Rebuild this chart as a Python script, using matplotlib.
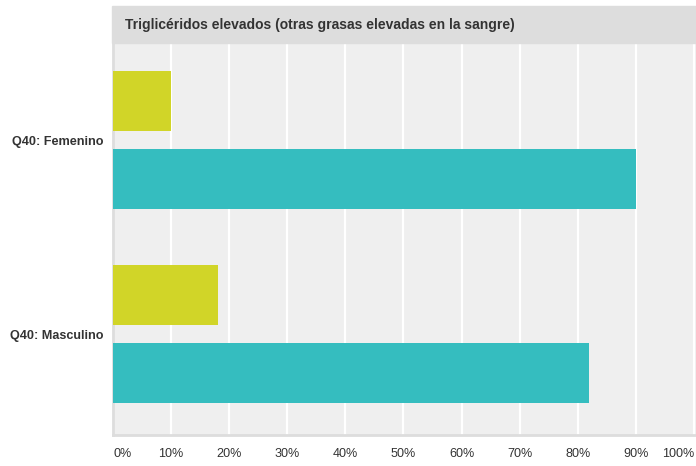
import numpy as np
import matplotlib.pyplot as plt
from matplotlib.patches import Rectangle

plt.rcParams['font.family'] = ['Liberation Sans', 'DejaVu Sans']

title = "Triglicéridos elevados (otras grasas elevadas en la sangre)"
categories = ["Q40: Femenino", "Q40: Masculino"]
yes_pct = [10, 18]
no_pct = [90, 82]
xticks = [0, 10, 20, 30, 40, 50, 60, 70, 80, 90, 100]

fig = plt.figure(figsize=(6.96, 4.66), dpi=100)
ax = fig.add_axes([113/696, 1 - 435/466, 583/696, (435 - 43)/466])
ax.set_facecolor('#efefef')

y = np.arange(len(categories))
h = 0.31
off = 0.201
ax.barh(y - off, yes_pct, height=h, color='#d1d528', zorder=3)
ax.barh(y + off, no_pct, height=h, color='#35bdbf', zorder=3)

ax.set_xlim(0, 100.35)
ax.set_ylim(1.52, -0.5)
ax.set_xticks(xticks)
ax.set_xticklabels([f"{t}%" for t in xticks], fontsize=9.1, color='#333333')
labels = ax.get_xticklabels()
labels[0].set_horizontalalignment('left')
labels[-1].set_horizontalalignment('right')
ax.tick_params(axis='x', length=0, pad=9.5)
ax.set_yticks(y)
ax.set_yticklabels(categories, fontsize=9.1, fontweight='bold', color='#333333')
ax.tick_params(axis='y', length=0, pad=7)

ax.grid(axis='x', color='white', linewidth=1.6, zorder=1)
ax.grid(axis='y', visible=False)
for s in ['top', 'right']:
    ax.spines[s].set_visible(False)
ax.spines['left'].set_color('#dddddd')
ax.spines['left'].set_linewidth(2)
ax.spines['bottom'].set_color('#dddddd')
ax.spines['bottom'].set_linewidth(2)

# title bar above the plot area
fig.patches.append(Rectangle((112/696, 1 - 43/466), 584/696, 37/466,
                             transform=fig.transFigure, color='#dddddd', zorder=0))
fig.text(125/696, 1 - 24.5/466, title, fontsize=10, fontweight='bold',
         color='#333333', va='center', ha='left')

fig.savefig('out.png', dpi=100)
